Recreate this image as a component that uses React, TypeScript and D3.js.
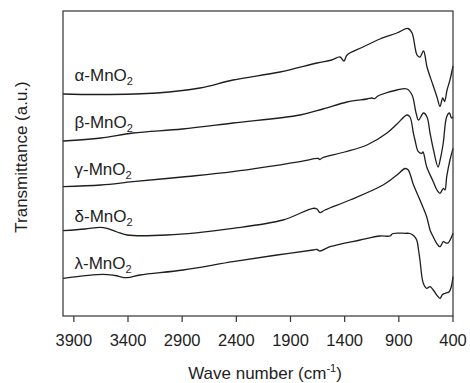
import React from "react";
import * as d3 from "d3";

// Tick labels of the wavenumber axis
const xTicks: number[] = [3900, 3400, 2900, 2400, 1900, 1400, 900, 400];

// Series names (Greek prefix) in top-to-bottom order
const seriesNames: string[] = ["α", "β", "γ", "δ", "λ"];

// Spectra: [wavenumber (cm-1), transmittance (a.u., offset)]
const alphaData: [number, number][] = [
  [4000, 222], [3658, 221.5], [3132, 223], [2735, 228], [2431, 236], [1997, 244],
  [1655, 253], [1520, 256], [1443, 259], [1406, 255], [1378, 261], [1231, 269],
  [1074, 277], [917, 283], [815, 287.5], [778, 283], [732, 261], [705, 259],
  [672, 265], [640, 249], [585, 231], [548, 219], [520, 209.5], [495, 218],
  [478, 214.5], [455, 226], [428, 236], [400, 250],
];

const betaData: [number, number][] = [
  [4000, 175], [3650, 178], [3354, 183], [2900, 187], [2431, 193], [1812, 201],
  [1600, 207], [1378, 214], [1194, 217], [1150, 218], [1120, 217.5], [1100, 219.5],
  [1074, 221], [917, 226], [825, 227], [778, 221], [741, 203], [718, 196],
  [672, 203], [640, 199], [612, 183], [580, 166], [538, 149], [515, 158],
  [490, 173], [459, 199], [433, 203], [414, 198], [400, 199],
];

const gammaData: [number, number][] = [
  [4000, 129.3], [3650, 131], [3354, 134.3], [2900, 139], [2431, 144.3], [1812, 154.3],
  [1646, 157.5], [1628, 156.5], [1609, 158], [1400, 164], [1194, 171], [1009, 183],
  [917, 192], [825, 201], [797, 199], [766, 183], [751, 176], [720, 164.3],
  [689, 162.7], [677, 164], [643, 149.3], [582, 134.3], [548, 126], [520, 122.7],
  [489, 127.7], [474, 126], [458, 139.3], [428, 156], [400, 167.7],
];

const deltaData: [number, number][] = [
  [4000, 85.3], [3797, 87], [3658, 88.7], [3594, 87.7], [3500, 84], [3409, 81],
  [3040, 81], [2431, 87.7], [1969, 96], [1692, 107.7], [1655, 107], [1628, 103.3],
  [1582, 106], [1351, 116], [1046, 131], [917, 141], [843, 147.5], [813, 146],
  [766, 131.5], [705, 116], [643, 99.3], [612, 86], [582, 79], [551, 72.7],
  [520, 69.3], [489, 74.3], [465, 73], [443, 73.3], [400, 82.7],
];

const lambdaData: [number, number][] = [
  [4000, 37.7], [3631, 41.7], [3520, 40.5], [3409, 38.3], [3289, 41], [2892, 46],
  [2431, 54.3], [2025, 61], [1692, 66], [1655, 66.5], [1628, 65], [1535, 69.3],
  [1258, 76], [1074, 80], [982, 80], [954, 82.5], [843, 82.7], [797, 82.5],
  [760, 80], [735, 76], [718, 66], [705, 56], [674, 32.7], [643, 27.7],
  [612, 29.3], [582, 26], [551, 21], [520, 17.7], [497, 21.5], [474, 22.7],
  [434, 24.3], [400, 39.3],
];

const allSeries = [alphaData, betaData, gammaData, deltaData, lambdaData];

const W = 470;
const H = 383;
const left = 63;
const right = 453;
const top = 11;
const bottom = 316;
const font = "'Liberation Sans', Arial, Helvetica, sans-serif";
const ink = "#1e1e1e";

export default function App() {
  const x = d3.scaleLinear().domain([4000, 400]).range([left, right]);
  const y = d3.scaleLinear().domain([0, 305]).range([bottom, top]);
  const line = d3
    .line<[number, number]>()
    .x((d) => x(d[0]))
    .y((d) => y(d[1]))
    .curve(d3.curveCatmullRom.alpha(0.5));

  return (
    <svg
      width={W}
      height={H}
      style={{ position: "absolute", left: 0, top: 0, display: "block", background: "#fff" }}
      fontFamily={font}
    >
      <rect x={0} y={0} width={W} height={H} fill="#fff" />
      {allSeries.map((s, i) => (
        <path key={i} d={line(s) || ""} fill="none" stroke={ink} strokeWidth={1.3} strokeLinejoin="round" />
      ))}
      <rect x={left} y={top} width={right - left} height={bottom - top} fill="none" stroke="#333" strokeWidth={1.2} />
      {xTicks.map((t) => (
        <g key={t} transform={`translate(${x(t)},${bottom})`}>
          <line y1={0} y2={6} stroke="#333" strokeWidth={1.2} />
          <text y={30} textAnchor="middle" fontSize={16.5} fill={ink}>
            {t}
          </text>
        </g>
      ))}
      <text x={265} y={379} textAnchor="middle" fontSize={17} fill={ink}>
        Wave number (cm
        <tspan fontSize={11} dy={-7}>-1</tspan>
        <tspan dy={7}>)</tspan>
      </text>
      <text transform="translate(27,157) rotate(-90)" textAnchor="middle" fontSize={17} fill={ink}>
        Transmittance (a.u.)
      </text>
      {seriesNames.map((n, i) => (
        <text key={n} x={74.5} y={81 + 47 * i} fontSize={17} fill={ink}>
          {n}-MnO
          <tspan fontSize={11} dy={4}>2</tspan>
        </text>
      ))}
    </svg>
  );
}
